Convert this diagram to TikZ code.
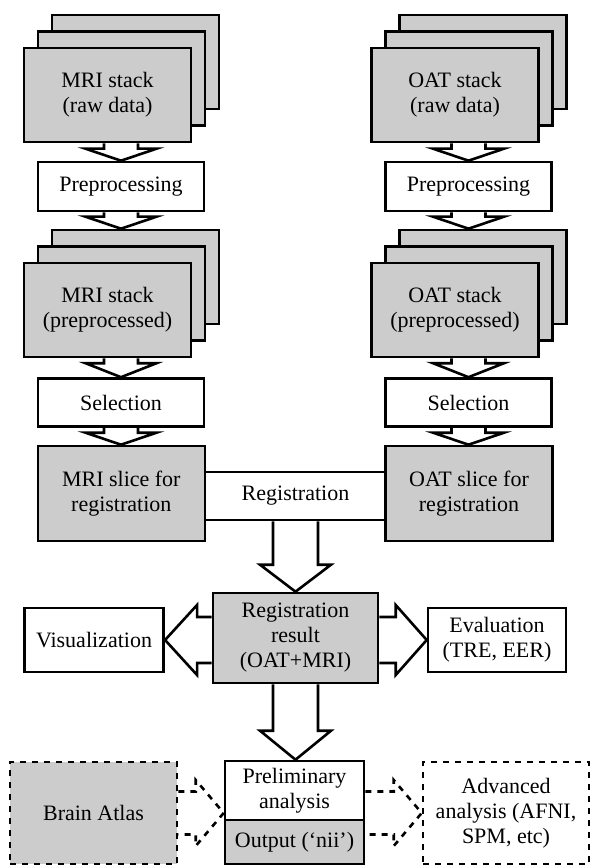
\documentclass[tikz,border=0pt]{standalone}
\usepackage{fontspec}
\setmainfont{Liberation Serif}
\usetikzlibrary{calc,backgrounds}
\definecolor{boxgray}{HTML}{CCCCCC}
\tikzset{
  basebox/.style={draw=black, line width=2.6pt, inner sep=0pt, align=center,
    font=\fontsize{22}{25}\selectfont},
  whitebox/.style={basebox, fill=white},
  graybox/.style={basebox, fill=boxgray},
  dashbox/.style={basebox, dash pattern=on 6pt off 6pt},
  arrowshape/.style={draw=black, fill=white, line width=2.6pt, line join=miter, miter limit=20},
  dasharrow/.style={draw=black, line width=2.6pt, dash pattern=on 6pt off 6pt, line join=miter},
  stackbox/.style={graybox, minimum width=167pt, minimum height=94pt},
}
% vertical arrow: #1 src, #2 tgt, #3 x ref, #4 half shaft, #5 half head, #6 head length
\newcommand\varrow[6]{%
  \path (#1.south -| #3) coordinate (vs) (#2.north -| #3) coordinate (vt);
  \draw[arrowshape] ($(vs)+(-#4,0)$) -- ($(vt)+(-#4,-#6)$) -- ($(vt)+(-#5,-#6)$) -- (vt)
    -- ($(vt)+(#5,-#6)$) -- ($(vt)+(#4,-#6)$) -- ($(vs)+(#4,0)$);
}
% horizontal arrow: #1 style, #2 src point, #3 tip point, #4 half shaft, #5 half head, #6 x offset tip->base
\newcommand\harrow[6]{%
  \path (#2) coordinate (hs) (#3) coordinate (ht);
  \draw[#1] ($(hs)+(0,-#4)$) -- ($(ht)+(#6,-#4)$) -- ($(ht)+(#6,-#5)$) -- (ht)
    -- ($(ht)+(#6,#5)$) -- ($(ht)+(#6,#4)$) -- ($(hs)+(0,#4)$);
}
\begin{document}
\begin{tikzpicture}[x=1pt,y=-1pt]
\useasboundingbox (0,0) rectangle (590,866);
% MRI column
\node[stackbox] (mri1c) at (135.5,62) {};
\node[stackbox] (mri1b) at (121.5,78.5) {};
\node[stackbox] (mri1a) at (107.5,95) {MRI stack\\(raw data)};
\node[whitebox, minimum width=166pt, minimum height=49pt] (prepM) at (121,186.5) {Preprocessing};
\node[stackbox] (mri2c) at (135.5,277) {};
\node[stackbox] (mri2b) at (121.5,293.5) {};
\node[stackbox] (mri2a) at (107.5,310) {MRI stack\\(preprocessed)};
\node[whitebox, minimum width=166pt, minimum height=48pt] (selM) at (121,402.5) {Selection};
% OAT column
\node[stackbox] (oat1c) at (483,62) {};
\node[stackbox] (oat1b) at (469,78.5) {};
\node[stackbox] (oat1a) at (455,95) {OAT stack\\(raw data)};
\node[whitebox, minimum width=166pt, minimum height=49pt] (prepO) at (468.5,186.5) {Preprocessing};
\node[stackbox] (oat2c) at (483,277) {};
\node[stackbox] (oat2b) at (469,293.5) {};
\node[stackbox] (oat2a) at (455,310) {OAT stack\\(preprocessed)};
\node[whitebox, minimum width=166pt, minimum height=48pt] (selO) at (468.5,402.5) {Selection};
% registration row
\node[whitebox, minimum width=181pt, minimum height=48pt] (reg) at (295.5,496) {Registration};
\node[graybox, minimum width=167pt, minimum height=95pt] (sliceM) at (121.3,493.5) {MRI slice for\\registration};
\node[graybox, minimum width=167pt, minimum height=95pt] (sliceO) at (469,493.5) {OAT slice for\\registration};
% result row
\node[graybox, minimum width=165pt, minimum height=90pt] (result) at (295.5,638) {Registration\\result\\(OAT+MRI)};
\node[whitebox, minimum width=139.5pt, minimum height=64pt] (vis) at (94,640) {Visualization};
\node[whitebox, minimum width=138pt, minimum height=64pt] (eval) at (497,640) {Evaluation\\(TRE, EER)};
% bottom row
\node[whitebox, minimum width=139pt, minimum height=59pt] (prelim) at (294.5,790.5) {Preliminary\\analysis};
\node[graybox, minimum width=139pt, minimum height=44pt] (output) at (294.5,842) {Output (‘nii’)};
\node[dashbox, fill=boxgray, minimum width=167pt, minimum height=102pt] (atlas) at (93.5,813) {Brain Atlas};
\node[dashbox, fill=white, minimum width=166pt, minimum height=102pt] (adv) at (506,813) {Advanced\\analysis (AFNI,\\SPM, etc)};
\begin{scope}[on background layer]
\varrow{mri1a}{prepM}{prepM}{17}{35.5}{12}
\varrow{prepM}{mri2c}{prepM}{17}{35.5}{12}
\varrow{mri2a}{selM}{selM}{17}{35.5}{14}
\varrow{selM}{sliceM}{selM}{17}{35.5}{12}
\varrow{oat1a}{prepO}{prepO}{17}{35.5}{12}
\varrow{prepO}{oat2c}{prepO}{17}{35.5}{12}
\varrow{oat2a}{selO}{selO}{17}{35.5}{14}
\varrow{selO}{sliceO}{selO}{17}{35.5}{12}
\varrow{reg}{result}{result}{22.5}{35.5}{27}
\varrow{result}{prelim}{result}{22.5}{35.5}{29}
\harrow{arrowshape}{result.west |- vis.east}{vis.east}{23}{35}{32}
\harrow{arrowshape}{result.east |- eval.west}{eval.west}{23}{35}{-31}
\harrow{dasharrow}{atlas.east}{prelim.west |- atlas.east}{21.5}{33}{-28}
\harrow{dasharrow}{prelim.east |- atlas.east}{adv.west}{21.5}{33}{-28}
\end{scope}
\end{tikzpicture}
\end{document}
